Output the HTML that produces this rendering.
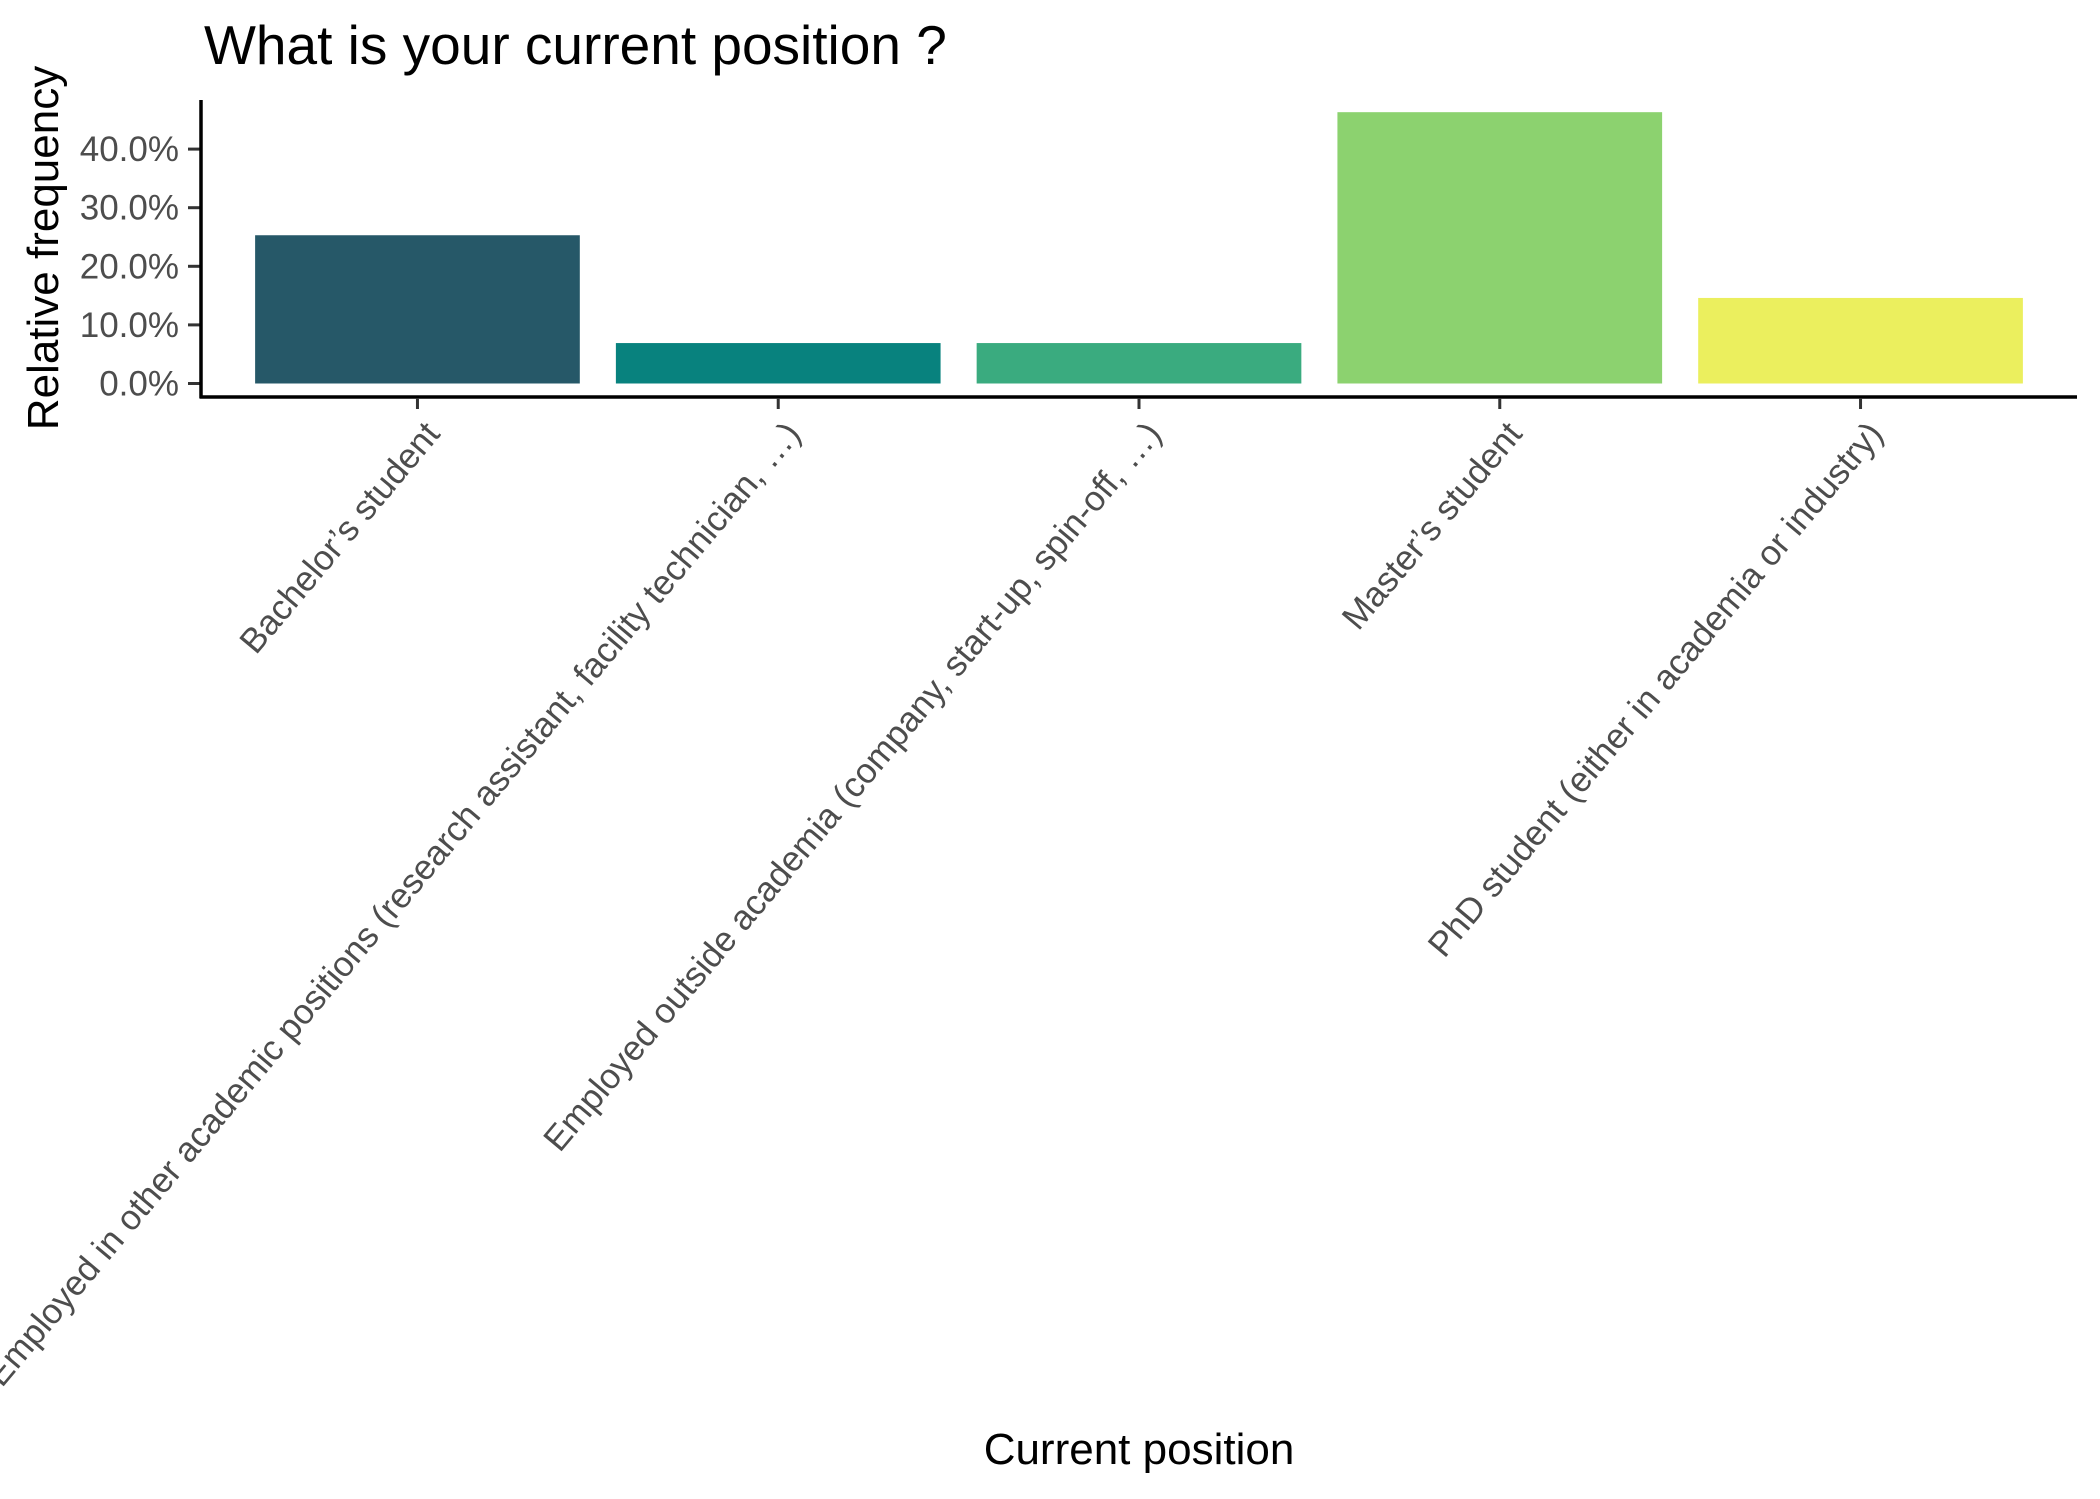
<!DOCTYPE html>
<html><head><meta charset="utf-8"><style>
html,body{margin:0;padding:0;background:#fff;}
svg{display:block;font-family:"Liberation Sans",sans-serif;}
</style></head><body>
<svg id="chart" width="2100" height="1499" viewBox="0 0 2100 1499" xmlns="http://www.w3.org/2000/svg">
<rect width="2100" height="1499" fill="#fff"/>
<text x="204" y="64" font-size="55" fill="#000">What is your current position ?</text>
<text transform="translate(58,248) rotate(-90)" text-anchor="middle" font-size="44" fill="#000">Relative frequency</text>
<text x="1139" y="1464" text-anchor="middle" font-size="44" fill="#000">Current position</text>
<g id="bars"></g><g id="yaxis"></g><g id="xaxis"></g>
</svg>
<script>
const categories = ["Bachelor’s student","Employed in other academic positions (research assistant, facility technician, …)","Employed outside academia (company, start-up, spin-off, …)","Master’s student","PhD student (either in academia or industry)"];
const values = [25.3, 6.9, 6.9, 46.3, 14.6];
const colors = ["#265868","#08827e","#3aab7f","#8cd26f","#ebef5e"];
const yTicks = [0, 10, 20, 30, 40];
const yTickLabels = ["0.0%","10.0%","20.0%","30.0%","40.0%"];

const NS="http://www.w3.org/2000/svg";
const x0=201, x1=2077, y0val=383.5, perUnit=5.86;
const band=(x1-x0)/(categories.length-1+1.2);
function xc(i){return x0+band*(0.6+i);}
function yv(v){return y0val-v*perUnit;}
function mk(tag,attrs,parent){const e=document.createElementNS(NS,tag);for(const k in attrs)e.setAttribute(k,attrs[k]);parent.appendChild(e);return e;}
const gb=document.getElementById('bars'), gy=document.getElementById('yaxis'), gx=document.getElementById('xaxis');
values.forEach((v,i)=>{
  const w=band*0.9;
  const r=mk('rect',{x:xc(i)-w/2,y:yv(v),width:w,height:yv(0)-yv(v),fill:colors[i]},gb);
  
  
});
yTicks.forEach((t,i)=>{
  const l=mk('line',{x1:188,x2:201,y1:yv(t),y2:yv(t),stroke:'#333','stroke-width':3},gy);
  
  
  const tx=mk('text',{x:179,y:yv(t)+12,'text-anchor':'end','font-size':35,fill:'#4d4d4d'},gy);
  tx.textContent=yTickLabels[i];
  
  
});
const ya=mk('line',{x1:201,x2:201,y1:100,y2:398,stroke:'#000','stroke-width':3.5},gy);


const xa=mk('line',{x1:199.5,x2:x1,y1:397,y2:397,stroke:'#000','stroke-width':3.5},gx);


categories.forEach((c,i)=>{
  const x=xc(i);
  const l=mk('line',{x1:x,x2:x,y1:398,y2:409,stroke:'#333','stroke-width':3},gx);
  
  
  const t=mk('text',{transform:`translate(${x+4},418) rotate(-50)`,x:0,y:26,'text-anchor':'end','font-size':35,fill:'#4d4d4d'},gx);
  t.textContent=c;
  
  
});
</script>
</body></html>
